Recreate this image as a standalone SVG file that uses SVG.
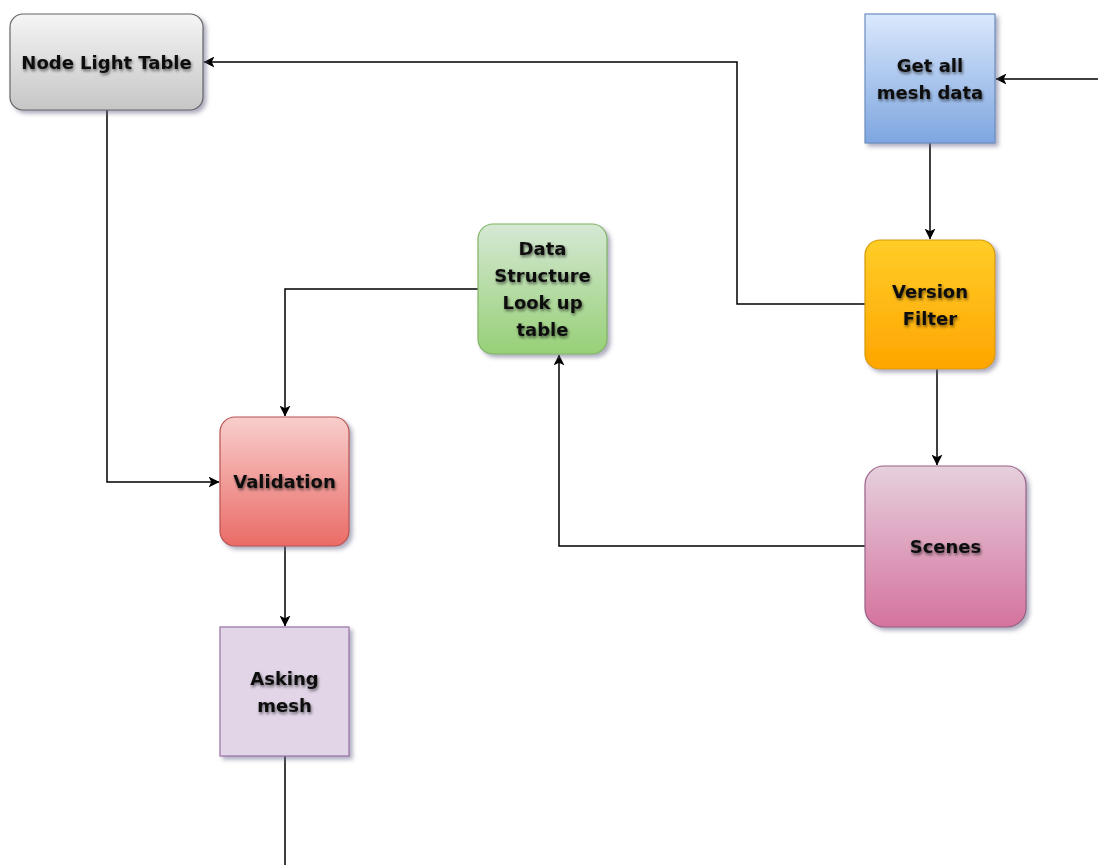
<svg xmlns="http://www.w3.org/2000/svg" width="1098" height="865" viewBox="0 0 1098 865">
<defs>
  <linearGradient id="gGray" x1="0" y1="0" x2="0" y2="1"><stop offset="0" stop-color="#f5f5f5"/><stop offset="1" stop-color="#c6c6c6"/></linearGradient>
  <linearGradient id="gBlue" x1="0" y1="0" x2="0" y2="1"><stop offset="0" stop-color="#dae8fc"/><stop offset="1" stop-color="#7ea6e0"/></linearGradient>
  <linearGradient id="gGreen" x1="0" y1="0" x2="0" y2="1"><stop offset="0" stop-color="#d5e8d4"/><stop offset="1" stop-color="#97d077"/></linearGradient>
  <linearGradient id="gOrange" x1="0" y1="0" x2="0" y2="1"><stop offset="0" stop-color="#ffcd28"/><stop offset="1" stop-color="#ffa500"/></linearGradient>
  <linearGradient id="gRed" x1="0" y1="0" x2="0" y2="1"><stop offset="0" stop-color="#f8cecc"/><stop offset="1" stop-color="#ea6b66"/></linearGradient>
  <linearGradient id="gPink" x1="0" y1="0" x2="0" y2="1"><stop offset="0" stop-color="#e6d0de"/><stop offset="1" stop-color="#d5739d"/></linearGradient>
  <filter id="boxShadow" x="-20%" y="-20%" width="150%" height="150%">
    <feDropShadow dx="3" dy="3" stdDeviation="2" flood-color="#6a6a8a" flood-opacity="0.55"/>
  </filter>
  <filter id="textShadow" x="-20%" y="-50%" width="140%" height="200%">
    <feDropShadow dx="1" dy="2" stdDeviation="1.5" flood-color="#000" flood-opacity="0.55"/>
  </filter>
  <marker id="arrow" viewBox="0 0 10 10" refX="9.5" refY="5" markerWidth="11" markerHeight="11" markerUnits="userSpaceOnUse" orient="auto">
    <path d="M0,0 L10,5 L0,10 L2.5,5 Z" fill="#000"/>
  </marker>
</defs>
<style>
  .lbl { font-family: "DejaVu Sans", sans-serif; font-weight: bold; font-size: 18px; fill: #111; text-anchor: middle; filter: url(#textShadow); }
  .edge { fill: none; stroke: #000; stroke-width: 1.5; marker-end: url(#arrow); }
  .line { fill: none; stroke: #000; stroke-width: 1.5; }
  .box { filter: url(#boxShadow); stroke-width: 1.2; }
</style>
<rect width="1098" height="865" fill="#fff"/>
<g id="connectors">
  <path class="edge" d="M1098,79 L996,79"/>
  <path class="edge" d="M930,143 L930,239"/>
  <path class="edge" d="M865,304 L737,304 L737,62 L204,62"/>
  <path class="edge" d="M937,369 L937,465"/>
  <path class="edge" d="M865,546 L559,546 L559,355"/>
  <path class="edge" d="M478,289 L285,289 L285,416"/>
  <path class="edge" d="M107,110 L107,482 L219,482"/>
  <path class="edge" d="M285,546 L285,626"/>
  <path class="line" d="M285,756 L285,865"/>
</g>
<g id="node-light-table">
  <rect class="box" x="10" y="14" width="193" height="96" rx="13" fill="url(#gGray)" stroke="#666"/>
  <text class="lbl" x="106.5" y="68.5">Node Light Table</text>
</g>
<g id="get-all-mesh-data">
  <rect class="box" x="865" y="14" width="130" height="129" fill="url(#gBlue)" stroke="#6c8ebf"/>
  <text class="lbl" x="930" y="71.5">Get all</text>
  <text class="lbl" x="930" y="98.5">mesh data</text>
</g>
<g id="data-structure">
  <rect class="box" x="478" y="224" width="129" height="130" rx="15" fill="url(#gGreen)" stroke="#82b366"/>
  <text class="lbl" x="542.5" y="255">Data</text>
  <text class="lbl" x="542.5" y="282">Structure</text>
  <text class="lbl" x="542.5" y="309">Look up</text>
  <text class="lbl" x="542.5" y="336">table</text>
</g>
<g id="version-filter">
  <rect class="box" x="865" y="240" width="130" height="129" rx="15" fill="url(#gOrange)" stroke="#d79b00"/>
  <text class="lbl" x="930" y="297.5">Version</text>
  <text class="lbl" x="930" y="324.5">Filter</text>
</g>
<g id="validation">
  <rect class="box" x="220" y="417" width="129" height="129" rx="15" fill="url(#gRed)" stroke="#b85450"/>
  <text class="lbl" x="284.5" y="488">Validation</text>
</g>
<g id="scenes">
  <rect class="box" x="865" y="466" width="161" height="161" rx="19" fill="url(#gPink)" stroke="#996185"/>
  <text class="lbl" x="945.5" y="553">Scenes</text>
</g>
<g id="asking-mesh">
  <rect class="box" x="220" y="627" width="129" height="129" fill="#e1d5e7" stroke="#9673a6"/>
  <text class="lbl" x="284.5" y="684.5">Asking</text>
  <text class="lbl" x="284.5" y="711.5">mesh</text>
</g>
</svg>
